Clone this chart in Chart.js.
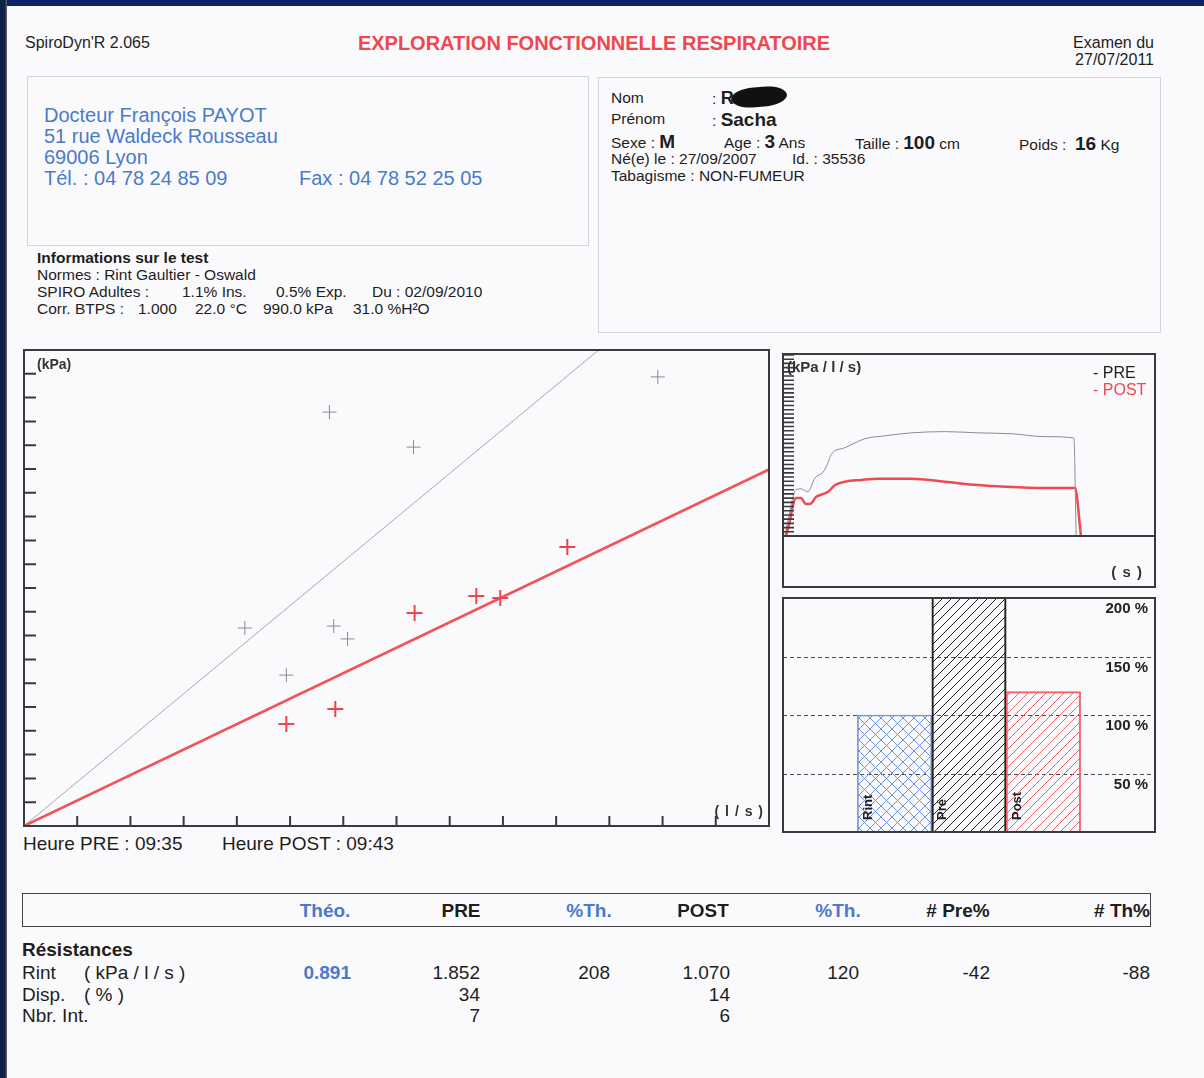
<!DOCTYPE html>
<html lang="fr"><head><meta charset="utf-8"><title>Exploration fonctionnelle respiratoire</title>
<script src="https://cdn.jsdelivr.net/npm/chart.js@4.4.1/dist/chart.umd.min.js"></script>
<style>
html,body{margin:0;padding:0}
body{width:1204px;height:1078px;position:relative;overflow:hidden;background:#fafafc;font-family:"Liberation Sans",Arial,Helvetica,sans-serif;color:#1e1e1e}
.t{position:absolute;white-space:pre;line-height:1}
.box{position:absolute;box-sizing:border-box}
canvas{position:absolute;display:block}
</style></head><body>
<div class="box" style="left:0;top:0;width:1204px;height:6px;background:#0b2468"></div>
<div class="box" style="left:0;top:0;width:7px;height:1078px;background:linear-gradient(90deg,#0b1f55,#1a2238 70%,#6a6e78)"></div>
<div class="box" style="left:27px;top:76px;width:562px;height:170px;border:1px solid #d4d4dc"></div>
<div class="box" style="left:598px;top:77px;width:563px;height:256px;border:1px solid #d4d4dc"></div>
<div class="box" style="left:22px;top:893px;width:1129px;height:34px;border:1.5px solid #444"></div>
<div class="box" style="left:731px;top:87px;width:56px;height:20px;background:#111;border-radius:50% / 60%;transform:rotate(-5deg)"></div>
<canvas id="main" width="749" height="480" style="left:22px;top:348px"></canvas>
<canvas id="trace" width="375" height="236" style="left:782px;top:353px"></canvas>
<canvas id="bars" width="375" height="237" style="left:782px;top:597px"></canvas>
<script>
// ---------- data ----------
// Main plot: pressure (kPa) vs flow (l/s)
const preFlow      = [0.574, 0.732, 1.191, 0.415, 0.582, 0.608, 0.493];
const prePressure  = [1.739, 1.592, 1.887, 0.832, 0.840, 0.786, 0.634];
const postFlow     = [0.493, 0.585, 0.734, 0.850, 0.895, 1.021];
const postPressure = [0.429, 0.492, 0.895, 0.966, 0.958, 1.172];
const rintPrePost  = [1.852, 1.070];           // slopes of the PRE / POST lines (kPa/l/s)
const flowMax = 1.4, pressureMax = 2.0;
const flowTicks     = [0.1,0.2,0.3,0.4,0.5,0.6,0.7,0.8,0.9,1.0,1.1,1.2,1.3];
const pressureTicks = [0.1,0.2,0.3,0.4,0.5,0.6,0.7,0.8,0.9,1.0,1.1,1.2,1.3,1.4,1.5,1.6,1.7,1.8,1.9];

// Resistance traces (kPa/l/s) vs time (s)
const preTraceT  = [0.005,0.019,0.027,0.035,0.048,0.067,0.086,0.108,0.121,0.129,0.167,0.220,0.274,0.344,0.435,0.524,0.613,0.704,0.782,0.788];
const preTraceR  = [0.00, 0.62, 0.93, 1.10, 1.12, 1.05, 1.38, 1.52, 1.74, 1.93, 2.10, 2.31, 2.38, 2.45, 2.48, 2.45, 2.43, 2.36, 2.33, 0.00];
const postTraceT = [0.008,0.019,0.027,0.035,0.048,0.062,0.073,0.089,0.102,0.121,0.140,0.167,0.210,0.255,0.344,0.435,0.524,0.597,0.704,0.785,0.801];
const postTraceR = [0.00, 0.38, 0.74, 0.90, 0.90, 0.76, 0.76, 0.93, 0.98, 1.05, 1.21, 1.29, 1.33, 1.36, 1.36, 1.29, 1.21, 1.17, 1.14, 1.14, 0.00];
const traceTimeMax = 1.0, traceResMax = 4.3, traceTickStep = 0.1;

// Bars (% of predicted)
const barCategories = ['', 'Rint', 'Pré', 'Post', ''];
const barPercent    = [null, 100, 208, 120, null];
const percentTicks  = [50, 100, 150, 200];
const percentLabels = ['50 %', '100 %', '150 %', '200 %'];

// Results table
const tableHeaders = ['Théo.', 'PRE', '%Th.', 'POST', '%Th.', '# Pre%', '# Th%'];
const rowLabels  = ['Rint', 'Disp.', 'Nbr. Int.'];
const rowUnits   = ['( kPa / l / s )', '( % )', ''];
const colTheo    = ['0.891', '', ''];
const colPre     = ['1.852', '34', '7'];
const colPreTh   = ['208', '', ''];
const colPost    = ['1.070', '14', '6'];
const colPostTh  = ['120', '', ''];
const colDPre    = ['-42', '', ''];
const colDTh     = ['-88', '', ''];

// ---------- text ----------
const BLUE = '#4a7acb', RED = '#f0464e';
function T(s, x, cy, size, o = {}) {
  const d = document.createElement('div');
  d.className = 't';
  if (o.html) d.innerHTML = s; else d.textContent = s;
  d.style.fontSize = size + 'px';
  d.style.top = (cy - size * 0.5) + 'px';
  if (o.b) d.style.fontWeight = 'bold';
  if (o.c) d.style.color = o.c;
  if (o.ls) d.style.letterSpacing = o.ls + 'px';
  if (o.a === 'r') d.style.right = (1204 - x) + 'px';
  else if (o.a === 'c') { d.style.left = x + 'px'; d.style.transform = 'translateX(-50%)'; }
  else d.style.left = x + 'px';
  document.body.appendChild(d);
  return d;
}
T("SpiroDyn'R 2.065", 25, 43, 16);
T('EXPLORATION FONCTIONNELLE RESPIRATOIRE', 594, 43, 20, {b: 1, c: RED, a: 'c'});
T('Examen du', 1154, 43, 16, {a: 'r'});
T('27/07/2011', 1154, 60, 16, {a: 'r'});

T('Docteur François PAYOT', 44, 115, 20, {c: BLUE});
T('51 rue Waldeck Rousseau', 44, 136, 20, {c: BLUE});
T('69006 Lyon', 44, 157, 20, {c: BLUE});
T('Tél. : 04 78 24 85 09', 44, 178, 20, {c: BLUE});
T('Fax : 04 78 52 25 05', 299, 178, 20, {c: BLUE});

T('Nom', 611, 98, 15.5);
T(': <b style="font-size:18px">R</b>', 712, 97, 15.5, {html: 1});
T('Prénom', 611, 119, 15.5);
T(': <b style="font-size:19px">Sacha</b>', 712, 118, 15.5, {html: 1});
T('Sexe : <b style="font-size:19px">M</b>', 611, 140, 15.5, {html: 1});
T('Age : <b style="font-size:19px">3</b> Ans', 724, 140, 15.5, {html: 1});
T('Taille : <b style="font-size:19px">100</b> cm', 855, 141, 15.5, {html: 1});
T('Poids :  <b style="font-size:19px">16</b> Kg', 1019, 142, 15.5, {html: 1});
T('Né(e) le : 27/09/2007', 611, 159, 15.5);
T('Id. : 35536', 792, 159, 15.5);
T('Tabagisme : NON-FUMEUR', 611, 176, 15.5);

T('Informations sur le test', 37, 258, 15.5, {b: 1});
T('Normes : Rint Gaultier - Oswald', 37, 275, 15.5);
T('SPIRO Adultes :', 37, 292, 15.5);
T('1.1% Ins.', 182, 292, 15.5);
T('0.5% Exp.', 276, 292, 15.5);
T('Du : 02/09/2010', 372, 292, 15.5);
T('Corr. BTPS :', 37, 309, 15.5);
T('1.000', 138, 309, 15.5);
T('22.0 °C', 195, 309, 15.5);
T('990.0 kPa', 263, 309, 15.5);
T('31.0 %H²O', 353, 309, 15.5);

T('(kPa)', 37, 364, 14, {b: 1, c: '#333'});
T('( l / s )', 764, 811, 14, {b: 1, c: '#333', a: 'r', ls: 1});
T('Heure PRE : 09:35', 23, 843, 19);
T('Heure POST : 09:43', 222, 843, 19);

T('(kPa / l / s)', 787, 366, 15, {b: 1, c: '#333'});
T('- PRE', 1093, 373, 16);
T('- POST', 1093, 390, 16, {c: RED});
T('( s )', 1143, 571, 15, {b: 1, c: '#333', a: 'r', ls: 1});

// table
const headX = [325, 461, 589, 703, 838, 958, 1150];
const headCol = [BLUE, '#1e1e1e', BLUE, '#1e1e1e', BLUE, '#1e1e1e', '#1e1e1e'];
tableHeaders.forEach((h, i) => T(h, headX[i], 910, 19, {b: 1, c: headCol[i], a: i === 6 ? 'r' : 'c'}));
T('Résistances', 22, 949, 19, {b: 1});
const rowY = [972, 994, 1015];
rowLabels.forEach((l, i) => { T(l, 22, rowY[i], 19); if (rowUnits[i]) T(rowUnits[i], 84, rowY[i], 19); });
const cols = [[colTheo, 351, true], [colPre, 480], [colPreTh, 610], [colPost, 730], [colPostTh, 859], [colDPre, 990], [colDTh, 1150]];
cols.forEach(([vals, x, theo]) => vals.forEach((v, i) => { if (v) T(v, x, rowY[i], 19, theo ? {b: 1, c: BLUE, a: 'r'} : {a: 'r'}); }));

// ---------- charts ----------
Chart.defaults.font.family = '"Liberation Sans", Arial, sans-serif';
const common = {responsive: false, animation: false, events: [],
  plugins: {legend: {display: false}, tooltip: {enabled: false}}};

// Main pressure/flow plot
const pts = (xs, ys) => xs.map((x, i) => ({x, y: ys[i]}));
const lineTo = r => { const xe = Math.min(flowMax, pressureMax / r); return [{x: 0, y: 0}, {x: xe, y: r * xe}]; };
new Chart(document.getElementById('main'), {
  type: 'scatter',
  data: {datasets: [
    {data: pts(postFlow, postPressure), pointStyle: 'cross', pointRadius: 8, borderColor: '#f0444c', borderWidth: 2},
    {data: pts(preFlow, prePressure), pointStyle: 'cross', pointRadius: 7, borderColor: '#8a8a90', borderWidth: 1},
    {data: lineTo(rintPrePost[1]), showLine: true, pointRadius: 0, borderColor: '#f0545a', borderWidth: 2.6},
    {data: lineTo(rintPrePost[0]), showLine: true, pointRadius: 0, borderColor: '#a8a8ae', borderWidth: 1}
  ]},
  options: Object.assign({}, common, {
    layout: {padding: 2, autoPadding: false},
    scales: {x: {type: 'linear', min: 0, max: flowMax, display: false},
             y: {type: 'linear', min: 0, max: pressureMax, display: false}}
  }),
  plugins: [{id: 'frameTicks', afterDraw(c) {
    const {ctx, chartArea: a, scales: {x, y}} = c;
    ctx.save(); ctx.strokeStyle = '#3a3a3e'; ctx.lineWidth = 2;
    ctx.strokeRect(a.left, a.top, a.right - a.left, a.bottom - a.top);
    ctx.beginPath();
    pressureTicks.forEach(v => { const p = y.getPixelForValue(v); ctx.moveTo(a.left, p); ctx.lineTo(a.left + 12, p); });
    flowTicks.forEach(v => { const p = x.getPixelForValue(v); ctx.moveTo(p, a.bottom); ctx.lineTo(p, a.bottom - 10); });
    ctx.stroke(); ctx.restore();
  }}]
});

// Resistance traces
new Chart(document.getElementById('trace'), {
  type: 'scatter',
  data: {datasets: [
    {data: pts(postTraceT, postTraceR), showLine: true, pointRadius: 0, borderColor: '#ee4a52', borderWidth: 2.5, cubicInterpolationMode: 'monotone'},
    {data: pts(preTraceT, preTraceR), showLine: true, pointRadius: 0, borderColor: '#8c8c92', borderWidth: 1, cubicInterpolationMode: 'monotone'}
  ]},
  options: Object.assign({}, common, {
    layout: {padding: {left: 1, top: 2, right: 2, bottom: 53}, autoPadding: false},
    scales: {x: {type: 'linear', min: 0, max: traceTimeMax, display: false},
             y: {type: 'linear', min: 0, max: traceResMax, display: false}}
  }),
  plugins: [{id: 'traceFrame', afterDraw(c) {
    const {ctx, chartArea: a, scales: {y}} = c;
    ctx.save(); ctx.strokeStyle = '#3a3a3e'; ctx.lineWidth = 2;
    ctx.strokeRect(1, 1, c.width - 3, c.height - 3);
    ctx.beginPath(); ctx.moveTo(1, a.bottom); ctx.lineTo(c.width - 2, a.bottom); ctx.stroke();
    ctx.lineWidth = 1.6; ctx.beginPath();
    const n = Math.round(traceResMax / traceTickStep);
    for (let i = 1; i <= n; i++) { const p = y.getPixelForValue(i * traceTickStep); ctx.moveTo(a.left, p); ctx.lineTo(a.left + 11, p); }
    ctx.stroke(); ctx.restore();
  }}]
});

// Bars
const barCtx = document.getElementById('bars').getContext('2d');
function hatch(color, s, cross) {
  const c = document.createElement('canvas'); c.width = c.height = s;
  const g = c.getContext('2d'); g.strokeStyle = color; g.lineWidth = 1; g.beginPath();
  g.moveTo(0, s); g.lineTo(s, 0); g.moveTo(-1, 1); g.lineTo(1, -1); g.moveTo(s - 1, s + 1); g.lineTo(s + 1, s - 1);
  if (cross) { g.moveTo(0, 0); g.lineTo(s, s); g.moveTo(-1, s - 1); g.lineTo(1, s + 1); g.moveTo(s - 1, -1); g.lineTo(s + 1, 1); }
  g.stroke(); return barCtx.createPattern(c, 'repeat');
}
const barFill = [null, hatch('#6f93da', 11, true), hatch('#222', 9, false), hatch('#f0606a', 9, false), null];
const barEdge = ['#000', '#6f93da', '#222', '#f0606a', '#000'];
new Chart(barCtx, {
  type: 'bar',
  data: {labels: barCategories, datasets: [{data: barPercent, backgroundColor: barFill, borderColor: barEdge,
    borderWidth: [0, 1, 1.5, 1.2, 0], barPercentage: 1, categoryPercentage: 1}]},
  options: Object.assign({}, common, {
    layout: {padding: {left: 1, top: 1, right: 2, bottom: 2}, autoPadding: false},
    scales: {x: {display: false}, y: {min: 0, max: 200, display: false}}
  }),
  plugins: [{id: 'barDeco',
    beforeDatasetsDraw(c) {
      const {ctx, chartArea: a, scales: {y}} = c;
      ctx.save(); ctx.strokeStyle = '#4a4a4e'; ctx.lineWidth = 1.2; ctx.setLineDash([4, 3]);
      percentTicks.forEach(v => { if (v >= 200) return; const p = Math.round(y.getPixelForValue(v)) + 0.5; ctx.beginPath(); ctx.moveTo(a.left, p); ctx.lineTo(a.right, p); ctx.stroke(); });
      ctx.restore();
    },
    afterDraw(c) {
      const {ctx, chartArea: a, scales: {y}} = c;
      ctx.save();
      ctx.fillStyle = '#222'; ctx.font = 'bold 13px "Liberation Sans", Arial'; ctx.textBaseline = 'middle';
      c.getDatasetMeta(0).data.forEach((bar, i) => {
        if (!barCategories[i]) return;
        ctx.save(); ctx.translate(bar.x - bar.width / 2 + 11, a.bottom - 12); ctx.rotate(-Math.PI / 2);
        ctx.textAlign = 'left'; ctx.fillText(barCategories[i], 0, 0); ctx.restore();
      });
      ctx.font = 'bold 15px "Liberation Sans", Arial'; ctx.textAlign = 'right';
      percentTicks.forEach((v, i) => ctx.fillText(percentLabels[i], a.right - 7, y.getPixelForValue(v) + 11));
      ctx.strokeStyle = '#3a3a3e'; ctx.lineWidth = 2;
      ctx.strokeRect(a.left, a.top, a.right - a.left, a.bottom - a.top);
      ctx.restore();
    }
  }]
});
</script>
</body></html>
